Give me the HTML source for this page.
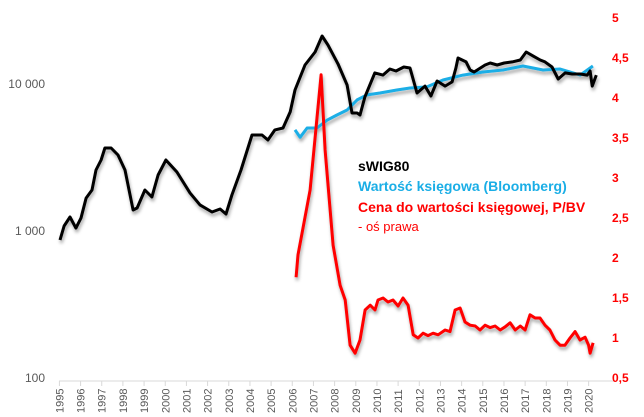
<!DOCTYPE html>
<html><head><meta charset="utf-8"><style>
html,body{margin:0;padding:0;background:#fff;}
svg{display:block;font-family:"Liberation Sans",sans-serif;}
</style></head><body>
<svg id="chart" width="644" height="417">
<defs><filter id="sh" x="-5%" y="-5%" width="110%" height="120%"><feDropShadow dx="1" dy="3" stdDeviation="1.6" flood-color="#000" flood-opacity="0.35"/></filter></defs>
<g id="axes"></g>
<g id="series" filter="url(#sh)"></g>
<g font-weight="bold" font-size="14">
<text x="358" y="171" fill="#000">sWIG80</text>
<text x="358" y="191" fill="#1aaee6">Wartość księgowa (Bloomberg)</text>
<text x="358" y="212" fill="#ff0000">Cena do wartości księgowej, P/BV</text>
<text x="358" y="231" fill="#ff0000" font-weight="normal" font-size="13">- oś prawa</text>
</g>
</svg>
<script>
const swigYears=[1995.03,1995.22,1995.5,1995.78,1996.02,1996.26,1996.54,1996.73,1996.97,1997.15,1997.44,1997.77,1998.1,1998.48,1998.67,1999.04,1999.37,1999.66,2000.03,2000.55,2001.17,2001.64,2002.21,2002.59,2002.87,2003.15,2003.58,2004.1,2004.57,2004.85,2005.18,2005.56,2005.9,2006.13,2006.6,2007.08,2007.41,2007.69,2008.16,2008.59,2008.82,2009.06,2009.2,2009.43,2009.9,2010.28,2010.61,2010.9,2011.27,2011.56,2011.89,2012.27,2012.55,2012.84,2013.22,2013.55,2013.73,2013.83,2014.21,2014.4,2014.59,2015.11,2015.35,2015.68,2016.01,2016.39,2016.77,2017.05,2017.38,2017.71,2017.94,2018.27,2018.56,2018.89,2019.22,2019.6,2019.93,2020.07,2020.17,2020.36];
const swigValues=[869,1081,1245,1047,1225,1675,1900,2600,3040,3670,3670,3290,2600,1390,1433,1900,1702,2403,3040,2520,1815,1504,1347,1412,1306,1758,2600,4500,4500,4160,4870,5020,6460,9100,13460,16500,21200,18400,13700,9840,6350,6350,6150,8170,11900,11500,12650,12250,13050,12850,8690,9680,8280,10480,9680,10330,12850,15030,14130,12450,12070,13460,13900,13460,13900,14130,14560,16500,15490,14560,14130,13050,10810,11900,11700,11700,11500,12250,9680,11500];
const bookYears=[2006.13,2006.37,2006.7,2007.17,2007.64,2008.11,2008.59,2009.06,2009.53,2010.14,2010.94,2011.56,2012.36,2013.12,2014.06,2015.01,2015.95,2016.9,2017.85,2018.65,2019.6,2020.2];
const bookValues=[4870,4340,5020,5020,5670,6150,6650,7790,8430,8690,9100,9400,9550,10650,11500,12070,12450,13260,12450,12650,11500,13260];
const pbvYears=[2006.18,2006.27,2006.84,2007.36,2007.55,2007.93,2008.26,2008.5,2008.73,2008.97,2009.2,2009.44,2009.68,2009.91,2010.05,2010.29,2010.52,2010.76,2011.0,2011.23,2011.47,2011.71,2011.94,2012.18,2012.41,2012.65,2012.89,2013.22,2013.45,2013.69,2013.93,2014.16,2014.4,2014.64,2014.87,2015.11,2015.35,2015.58,2015.82,2016.06,2016.29,2016.53,2016.77,2017.0,2017.23,2017.47,2017.7,2017.94,2018.17,2018.41,2018.65,2018.88,2019.12,2019.36,2019.59,2019.83,2020.0,2020.07,2020.21];
const pbvValues=[1.76,2.04,2.85,4.29,3.35,2.16,1.66,1.475,0.91,0.81,0.975,1.35,1.41,1.35,1.475,1.5,1.45,1.475,1.4,1.5,1.41,1.04,1.0,1.06,1.03,1.06,1.04,1.1,1.08,1.35,1.375,1.2,1.16,1.15,1.1,1.16,1.13,1.15,1.1,1.14,1.19,1.1,1.15,1.1,1.29,1.25,1.25,1.16,1.1,0.975,0.91,0.91,1.0,1.08,0.975,1.01,0.91,0.81,0.94];
const leftTicks=[100,1000,10000];
const leftTickLabels=["100","1 000","10 000"];
const rightTicks=[0.5,1,1.5,2,2.5,3,3.5,4,4.5,5];
const rightTickLabels=["0,5","1","1,5","2","2,5","3","3,5","4","4,5","5"];
const yearTicks=[1995,1996,1997,1998,1999,2000,2001,2002,2003,2004,2005,2006,2007,2008,2009,2010,2011,2012,2013,2014,2015,2016,2017,2018,2019,2020];

const NS="http://www.w3.org/2000/svg";
const X=t=>59.4+(t-1995)*21.17;
const YL=v=>378-(Math.log10(v)-2)*147;
const YR=v=>378-(v-0.5)*80;
function mk(tag,attrs,parent){const e=document.createElementNS(NS,tag);for(const k in attrs)e.setAttribute(k,attrs[k]);parent.appendChild(e);return e;}
const axes=document.getElementById('axes'),series=document.getElementById('series');
const xl=mk('line',{x1:59,x2:614,y1:381,y2:381,stroke:'#d9d9d9','stroke-width':1},axes);


yearTicks.forEach((yr,i)=>{
  const x=X(yr);
  const tk=mk('line',{x1:x,x2:x,y1:381,y2:386,stroke:'#d9d9d9'},axes);
  
  
  const t=mk('text',{x:0,y:0,transform:`translate(${x+4},${413}) rotate(-90)`,'font-size':11,fill:'#595959'},axes);
  t.textContent=String(yr);
  
  
});
leftTicks.forEach((v,i)=>{
  const t=mk('text',{x:45,y:YL(v)+4,'text-anchor':'end','font-size':12,fill:'#595959'},axes);
  t.textContent=leftTickLabels[i];
  
  
});
rightTicks.forEach((v,i)=>{
  const t=mk('text',{x:612,y:YR(v)+4,'font-size':12,'font-weight':'bold',fill:'#ff0000'},axes);
  t.textContent=rightTickLabels[i];
  
  
});
function line(xs,vs,yf){return xs.map((t,i)=>(i?'L':'M')+X(t).toFixed(1)+','+yf(vs[i]).toFixed(1)).join('');}
const pb=mk('path',{d:line(bookYears,bookValues,YL),fill:'none',stroke:'#1aaee6','stroke-width':3,'stroke-linejoin':'round'},series);


const ps=mk('path',{d:line(swigYears,swigValues,YL),fill:'none',stroke:'#000','stroke-width':3,'stroke-linejoin':'round'},series);


const pr=mk('path',{d:line(pbvYears,pbvValues,YR),fill:'none',stroke:'#ff0000','stroke-width':3,'stroke-linejoin':'round'},series);


</script>
</body></html>
